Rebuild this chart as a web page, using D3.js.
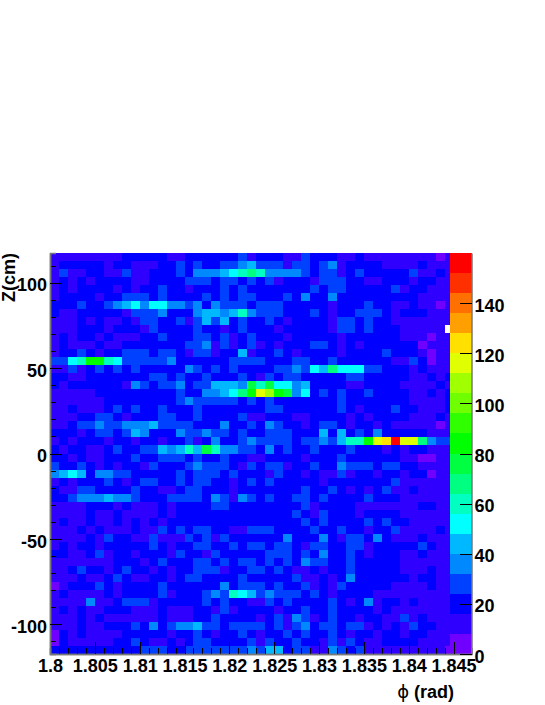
<!doctype html>
<html>
<head>
<meta charset="utf-8">
<script src="https://d3js.org/d3.v7.min.js"></script>
<style>
body { margin: 0; background: #fff; }
text { font-family: "Liberation Sans", Arial, sans-serif; font-weight: bold; font-size: 18px; fill: #000; }
</style>
</head>
<body>
<svg width="545" height="705"></svg>
<script>
// axis ranges and ticks
var phiDomain = [1.8, 1.847],
    zDomain = [-117.4, 117.4],
    countDomain = [0, 160];
var phiBin = 0.001;
var phiTicks = [1.8, 1.805, 1.81, 1.815, 1.82, 1.825, 1.83, 1.835, 1.84, 1.845];
var phiTickLabels = ["1.8", "1.805", "1.81", "1.815", "1.82", "1.825", "1.83", "1.835", "1.84", "1.845"];
var zTicks = [-100, -50, 0, 50, 100];
var countTicks = [0, 20, 40, 60, 80, 100, 120, 140];

// ROOT rainbow palette, one colour per 8 counts
var paletteColors = ["#7000ff", "#3000ff", "#0000ff", "#0040ff", "#0088ff", "#00b8ff", "#00ffff", "#00ffc0", "#00ff80", "#00ff40",
    "#00ff00", "#30ff00", "#70ff00", "#a0ff00", "#e0ff00", "#ffe000", "#ffa000", "#ff7000", "#ff3000", "#ff0000"];

// counts per bin, top row first, left column first (50 z bins)
var counts = [
[12,12,12,12,12,12,12,12,20,20,20,20,20,12,12,20,20,20,20,20,20,28,12,20,20,20,12,12,28,20,20,20,12,12,20,12,12,12,12,12,12,12,12,4,12],
[12,20,20,20,20,20,12,20,20,12,12,12,20,20,28,20,28,20,20,28,28,36,44,28,28,28,12,28,28,20,28,36,12,20,20,20,20,12,12,12,12,20,12,12,12],
[12,28,12,12,20,20,12,12,28,12,12,20,20,20,28,20,36,36,36,44,52,60,68,60,36,36,36,36,28,20,28,28,12,20,28,20,20,20,20,20,28,12,12,20,12],
[12,20,12,20,12,20,20,20,20,12,12,20,20,20,20,28,28,28,20,28,28,20,28,20,28,12,20,20,20,12,28,28,28,20,20,12,12,20,20,20,12,20,20,12,12],
[12,20,12,20,20,20,20,12,20,12,20,20,28,20,20,12,20,20,20,28,20,28,20,20,20,20,20,20,20,28,20,28,28,20,20,20,20,20,28,12,20,20,12,12,12],
[12,20,20,20,20,12,20,20,28,28,28,20,28,20,20,20,20,28,20,28,20,28,28,20,20,20,28,20,36,20,20,36,20,20,20,20,20,20,20,20,20,12,12,12,12],
[20,20,20,28,20,20,28,36,44,52,36,52,52,36,36,28,36,20,36,28,28,28,20,28,28,28,20,20,20,20,20,12,20,20,20,28,20,20,12,12,20,12,12,4,12],
[20,12,12,20,20,20,20,20,12,28,28,28,36,20,20,20,36,44,44,36,44,60,36,28,28,28,20,20,20,28,20,12,20,20,28,28,28,20,12,20,20,20,12,12,12],
[12,12,12,20,12,20,12,12,20,12,28,28,20,20,28,12,28,44,28,44,20,28,20,20,28,20,12,20,20,20,20,12,28,28,20,28,20,20,12,12,12,12,12,12,12],
[12,12,12,20,20,20,12,20,20,20,12,28,20,20,20,20,28,20,20,12,20,28,20,20,20,12,20,20,20,20,20,12,28,28,20,28,20,20,20,12,12,12,12,12,0],
[12,20,12,20,20,12,20,12,12,12,20,20,28,20,20,20,28,28,20,28,12,20,28,20,20,20,12,20,20,20,20,20,12,20,20,20,20,20,20,12,12,12,4,12,12],
[12,20,12,12,12,20,12,12,20,20,20,20,20,20,20,28,28,36,12,28,12,20,28,12,20,12,20,20,20,28,28,20,12,20,12,20,20,20,20,20,20,4,12,12,12],
[12,20,20,28,20,12,20,20,28,28,28,20,28,28,20,12,28,28,12,20,20,44,12,20,20,28,20,12,20,20,20,20,12,20,20,20,20,28,20,20,20,12,4,12,12],
[28,28,52,60,84,84,60,52,28,28,28,28,28,36,20,20,20,20,20,20,28,28,28,28,20,20,20,28,28,20,20,28,20,20,20,20,20,20,12,12,28,20,4,12,12],
[12,12,28,12,20,28,20,28,20,28,20,20,20,20,20,36,28,20,28,20,28,20,20,20,20,28,28,36,28,52,44,68,52,52,52,28,28,20,20,20,12,20,12,12,12],
[20,20,12,12,20,20,20,20,20,20,20,28,28,20,28,20,20,28,20,20,20,28,20,12,28,20,28,28,20,20,20,20,20,28,28,20,20,20,20,20,12,12,20,12,20],
[20,12,20,20,20,20,20,20,12,36,28,20,28,28,36,20,28,28,44,44,44,36,76,60,76,52,52,36,44,20,20,20,20,12,12,20,20,20,20,12,12,12,12,20,12],
[12,12,12,12,12,20,20,20,20,20,20,20,20,20,28,20,20,36,36,44,52,68,84,116,108,84,76,36,52,20,28,20,28,20,20,28,20,20,20,20,12,12,20,12,20],
[12,12,12,12,12,12,20,20,20,20,20,20,20,20,28,36,28,28,28,28,28,20,28,20,28,20,20,20,20,20,20,20,28,20,20,20,20,20,20,20,12,12,12,12,20],
[12,12,20,12,12,12,20,28,20,28,20,20,28,20,20,20,28,20,20,20,20,20,20,20,28,28,20,20,20,20,20,20,28,20,12,20,20,20,28,20,20,12,12,12,20],
[12,12,12,20,20,28,28,20,12,20,20,20,28,28,20,20,28,20,20,20,20,28,12,12,20,20,20,12,12,20,20,20,20,12,20,12,20,20,20,20,12,12,12,20,12],
[12,12,20,28,28,36,28,28,36,36,36,44,28,28,28,28,20,20,20,36,20,20,28,20,36,28,20,20,12,20,28,28,20,12,20,20,12,20,12,12,12,12,12,4,12],
[20,20,20,12,20,28,28,20,28,44,36,20,20,20,36,28,28,36,28,28,20,28,20,20,28,28,28,20,20,20,44,20,44,20,28,20,36,20,20,20,20,20,12,12,12],
[12,20,12,20,20,20,12,20,20,12,20,20,12,20,20,28,12,20,36,20,20,28,36,28,28,28,28,20,28,28,36,28,44,60,60,84,116,124,156,116,116,68,36,28,28],
[20,12,20,20,12,12,20,28,20,20,28,28,44,36,44,60,44,76,60,36,36,28,28,20,36,20,28,20,20,28,20,20,20,28,20,20,20,12,20,12,20,20,12,12,12],
[20,20,12,20,12,12,20,20,20,28,20,20,28,28,28,20,28,20,20,28,20,20,12,12,20,20,20,20,12,20,20,20,28,20,20,20,20,20,20,12,12,4,4,12,12],
[28,20,20,28,20,12,20,12,20,20,12,28,20,20,20,28,36,28,28,28,20,12,28,20,28,28,12,20,20,28,20,20,36,28,28,28,20,28,28,20,20,12,12,12,12],
[36,44,52,44,20,36,36,28,28,20,20,20,20,20,28,20,28,28,28,20,28,20,20,20,12,28,20,20,12,20,12,12,28,12,20,20,12,20,20,12,20,20,4,12,12],
[12,20,12,20,20,20,28,20,12,20,28,28,20,20,28,20,28,28,20,20,12,20,28,20,28,20,20,20,20,20,12,20,20,20,20,20,20,20,28,12,12,12,12,12,12],
[20,12,12,28,28,20,20,20,20,28,20,20,12,12,20,28,28,20,20,20,12,20,20,20,20,20,20,20,28,20,20,28,20,12,20,12,20,28,12,12,20,12,12,12,12],
[20,20,28,36,36,36,44,36,36,28,20,20,20,28,28,28,28,20,36,28,12,36,28,20,28,20,20,28,28,20,28,20,20,20,20,28,20,20,20,12,12,12,12,12,12],
[12,12,12,12,20,20,20,12,20,12,12,12,20,12,20,20,20,20,28,28,20,20,20,20,20,20,20,20,28,12,20,20,20,20,12,12,12,12,12,12,12,20,20,12,12],
[12,12,12,12,20,12,12,20,12,12,12,12,20,12,20,20,20,20,20,20,20,20,20,20,20,20,20,28,20,12,28,20,20,20,12,20,20,20,20,12,12,12,12,12,12],
[12,20,12,12,20,12,12,20,12,20,12,20,12,20,20,20,20,20,20,20,20,20,20,20,20,20,20,20,28,20,28,20,20,20,20,28,20,28,20,20,12,12,12,12,12],
[12,12,12,20,12,20,12,12,12,20,12,12,28,20,28,20,28,28,20,20,12,12,28,28,28,20,20,20,20,28,20,20,28,20,20,12,20,20,28,12,12,12,12,20,12],
[12,12,12,12,20,12,28,20,20,12,12,28,12,12,12,28,20,28,12,28,20,20,20,20,20,20,36,20,20,20,36,20,12,28,28,20,36,20,12,12,12,20,12,12,12],
[12,20,12,20,20,12,20,20,20,20,20,28,20,12,20,20,28,28,20,20,28,20,28,28,20,28,28,20,12,28,28,20,20,28,28,12,20,20,20,20,20,28,20,12,12],
[20,20,12,12,20,28,12,20,20,12,20,20,20,12,28,20,20,12,28,20,20,20,20,20,28,28,28,20,28,20,36,20,20,28,20,12,20,20,20,12,12,20,12,12,12],
[12,12,12,12,12,12,12,20,20,20,12,20,28,20,20,20,28,28,20,28,20,28,28,20,28,20,28,20,36,28,28,20,20,28,20,20,20,20,20,12,12,12,12,12,12],
[12,12,20,28,20,20,12,20,28,20,20,12,20,12,20,20,28,28,28,12,20,20,28,28,20,28,20,12,12,20,12,20,20,28,20,20,20,20,20,12,12,12,20,12,12],
[12,12,12,20,12,12,20,28,20,12,12,20,20,12,20,28,28,20,20,20,20,28,20,20,20,20,20,28,12,12,20,12,20,36,20,20,20,20,20,20,12,20,20,12,12],
[4,12,20,20,20,28,20,12,20,20,20,20,28,20,20,20,20,20,20,36,20,28,28,28,20,28,20,20,28,12,20,12,28,20,20,20,20,20,12,12,12,12,20,12,12],
[12,20,12,12,12,12,20,12,20,20,20,20,28,12,20,20,20,28,36,28,60,52,44,28,36,28,28,28,20,28,20,12,20,20,20,20,12,12,12,12,12,12,12,12,12],
[12,12,12,12,36,12,12,20,28,28,28,12,20,20,20,20,20,28,20,28,20,20,12,12,28,20,28,20,20,20,20,28,20,12,20,36,12,20,20,12,20,12,12,12,12],
[12,20,12,20,12,12,20,20,20,12,12,12,20,12,12,12,20,20,12,28,12,20,20,20,20,12,20,20,28,20,20,28,20,20,20,20,12,20,12,12,12,12,12,12,12],
[12,12,12,20,12,20,12,12,12,12,12,12,20,12,12,12,20,20,28,20,20,20,20,12,20,28,12,36,28,12,20,28,20,20,12,20,20,12,12,28,12,20,12,12,12],
[12,12,12,20,12,12,20,20,20,28,20,36,20,28,36,36,44,28,28,20,28,28,28,28,20,28,12,28,36,20,28,28,20,28,28,12,20,12,20,12,28,20,20,12,12],
[4,20,12,20,12,12,12,12,20,20,20,20,20,12,20,20,28,20,12,20,20,28,20,12,20,20,28,20,28,20,20,28,20,12,20,20,12,20,20,12,20,20,12,12,12],
[4,20,12,12,12,12,12,20,20,28,20,12,12,20,12,20,28,28,20,20,20,20,28,12,28,20,20,28,20,20,12,28,12,28,20,12,12,20,20,20,20,12,12,12,12],
[20,20,20,20,20,20,20,20,20,20,28,28,28,20,20,28,28,28,28,28,28,28,36,28,44,44,20,28,28,12,12,36,28,20,28,12,12,12,12,12,12,12,12,12,4]
];

var svg = d3.select("svg");
var plotLeft = 50, plotRight = 471.5, plotTop = 253, plotBottom = 654;
var paletteLeft = 449.5;

var xScale = d3.scaleLinear().domain(phiDomain).range([plotLeft, plotRight]),
    yScale = d3.scaleLinear().domain(zDomain).range([plotBottom, plotTop]),
    cScale = d3.scaleLinear().domain(countDomain).range([plotBottom, plotTop]);

var colorOf = d3.scaleQuantize().domain(countDomain).range(paletteColors);
var zBin = (zDomain[1] - zDomain[0]) / counts.length;

// heat map, empty bins stay white
var cells = svg.append("g").attr("shape-rendering", "crispEdges");
counts.forEach(function(row, r) {
    var zHigh = zDomain[1] - r * zBin;
    cells.selectAll(null)
        .data(row.map(function(v, c) { return { c: c, v: v }; }).filter(function(d) { return d.v > 0; }))
        .enter().append("rect")
        .attr("x", function(d) { return xScale(phiDomain[0] + d.c * phiBin); })
        .attr("width", xScale(phiDomain[0] + phiBin) - plotLeft)
        .attr("y", yScale(zHigh))
        .attr("height", yScale(zHigh - zBin) - yScale(zHigh))
        .style("fill", function(d) { return colorOf(d.v); });
});

// palette
var bandSize = (countDomain[1] - countDomain[0]) / paletteColors.length;
svg.append("g").attr("shape-rendering", "crispEdges")
    .selectAll("rect").data(paletteColors).enter().append("rect")
    .attr("x", paletteLeft)
    .attr("width", plotRight - paletteLeft)
    .attr("y", function(d, i) { return cScale((i + 1) * bandSize); })
    .attr("height", cScale(0) - cScale(bandSize))
    .style("fill", function(d) { return d; });

// minor ticks
var phiMinor = d3.range(0, 46).map(function(i) { return phiDomain[0] + i * phiBin; });
var zMinor = d3.range(-110, 111, 10);

function styleAxis(g) {
    g.selectAll("line").style("stroke", "#000").style("stroke-width", 1).attr("shape-rendering", "crispEdges");
    g.select(".domain").style("stroke", "#777").style("stroke-width", 1.5);
    g.attr("font-size", null).attr("font-family", null);
}

svg.append("g").attr("transform", "translate(0," + plotBottom + ")")
    .call(d3.axisBottom(xScale).tickValues(phiMinor).tickSize(-6).tickFormat(""))
    .call(styleAxis);
svg.append("g").attr("transform", "translate(" + plotLeft + ",0)")
    .call(d3.axisLeft(yScale).tickValues(zMinor).tickSize(-6).tickFormat(""))
    .call(styleAxis);

svg.append("g").attr("transform", "translate(0," + plotBottom + ")")
    .call(d3.axisBottom(xScale).tickValues(phiTicks).tickSizeInner(-12).tickSizeOuter(0).tickPadding(5)
        .tickFormat(function(d, i) { return phiTickLabels[i]; }))
    .call(styleAxis);
svg.append("g").attr("transform", "translate(" + plotLeft + ",0)")
    .call(d3.axisLeft(yScale).tickValues(zTicks).tickSizeInner(-12).tickSizeOuter(0).tickPadding(3)
        .tickFormat(function(d) { return String(d); }))
    .call(styleAxis)
    .selectAll("text").attr("dy", "0.45em");

svg.append("g").attr("transform", "translate(" + plotRight + ",0)")
    .call(d3.axisRight(cScale).tickValues(countTicks).tickSizeInner(-12).tickSizeOuter(0).tickPadding(3))
    .call(styleAxis)
    .selectAll("text").attr("dy", "0.45em");

// axis titles
var xTitle = svg.append("text").attr("x", 454).attr("y", 698).attr("text-anchor", "end");
xTitle.append("tspan").style("font-weight", "normal").style("font-family", "DejaVu Sans").text("\u03d5");
xTitle.append("tspan").text(" (rad)");

svg.append("text")
    .attr("text-anchor", "end")
    .attr("transform", "translate(15,253)rotate(-90)")
    .text("Z(cm)");
</script>
</body>
</html>
